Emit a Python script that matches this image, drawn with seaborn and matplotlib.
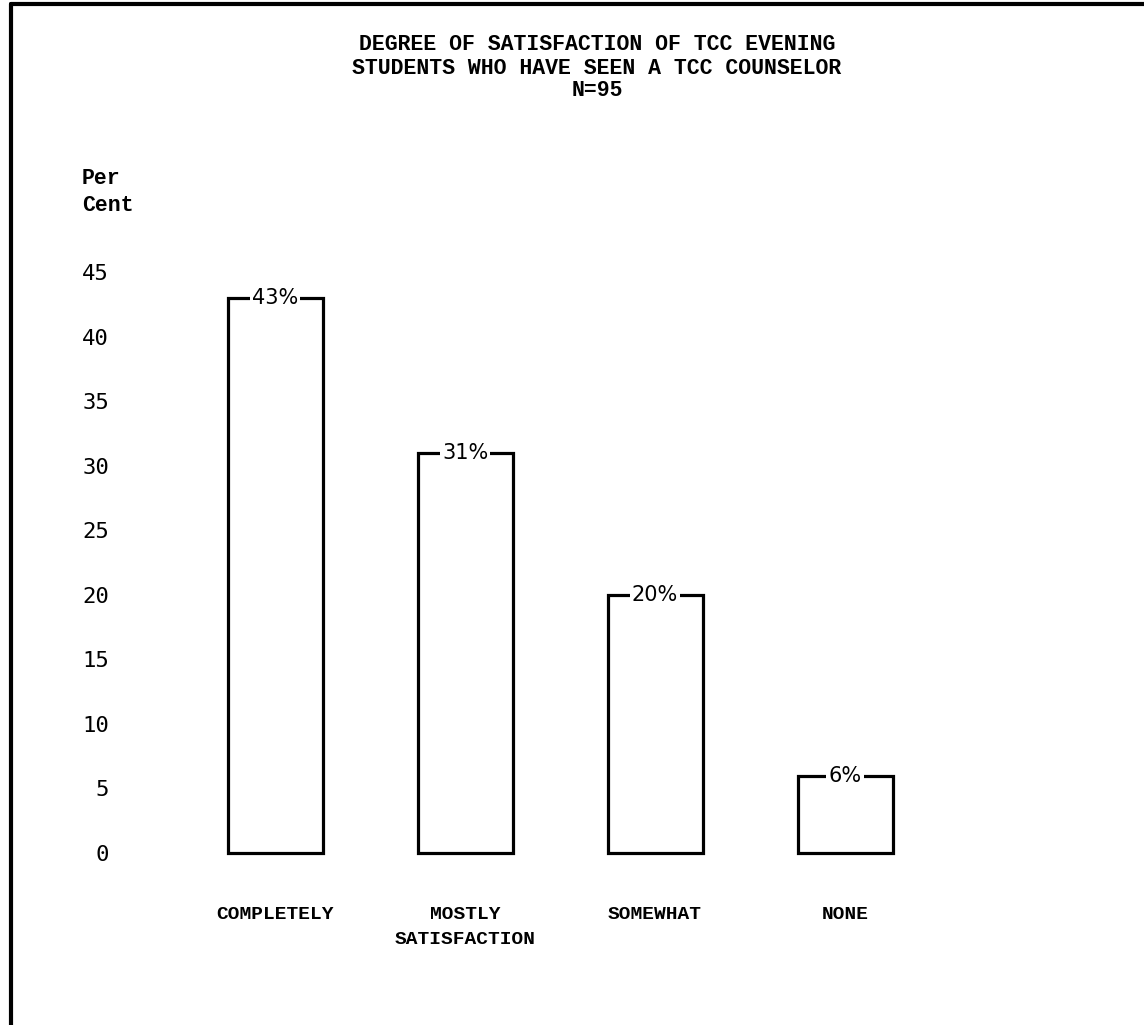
import pandas as pd
import seaborn as sns
from matplotlib import pyplot as plt
from matplotlib.lines import Line2D

px = 1/100

# data
categories = ['COMPLETELY', 'MOSTLY\nSATISFACTION', 'SOMEWHAT', 'NONE']
percent = [43, 31, 20, 6]
bar_labels = ['43%', '31%', '20%', '6%']
y_ticks = [0, 5, 10, 15, 20, 25, 30, 35, 40, 45]
title_lines = ['DEGREE OF SATISFACTION OF TCC EVENING',
               'STUDENTS WHO HAVE SEEN A TCC COUNSELOR',
               'N=95']
y_label = 'Per\nCent'

sns.set_style('white')
plt.rcParams['font.family'] = ['Liberation Mono', 'DejaVu Sans Mono']
plt.rcParams['text.color'] = 'black'
plt.rcParams['xtick.color'] = 'black'
plt.rcParams['ytick.color'] = 'black'

W, H = 1144, 1025
fig = plt.figure(figsize=(W*px, H*px), dpi=100)

# axes box in pixels: left 120, right 1100, bottom 853, top 272
ax = fig.add_axes([120/W, 1 - 853/H, (1100 - 120)/W, (853 - 272)/H])

df = pd.DataFrame({'category': categories, 'percent': percent})
sns.barplot(data=df, x='category', y='percent', color='white', saturation=1,
            edgecolor='black', linewidth=2.3, width=0.5, ax=ax)

for p in ax.patches:
    p.set_clip_on(False)

# value labels sit on the top edge, breaking it
for i, (v, lab) in enumerate(zip(percent, bar_labels)):
    ax.text(i, v, lab, ha='center', va='center', fontsize=15,
            family=['DejaVu Sans'], color='black',
            bbox=dict(facecolor='white', edgecolor='none', pad=1.5))

ax.set_ylim(0, 45)
ax.set_xlim((120 - 275)/190, (1100 - 275)/190)
ax.set_yticks(y_ticks)
ax.set_yticklabels([str(t) for t in y_ticks], fontsize=16,
                   family=['DejaVu Sans Mono'])
ax.tick_params(axis='y', length=0, pad=8, labelcolor='black')
ax.tick_params(axis='x', length=0, pad=38, labelcolor='black')
for t in ax.get_xticklabels():
    t.set_fontsize(14)
    t.set_fontweight('bold')
    t.set_linespacing(1.6)
    t.set_va('top')
ax.set_xlabel('')
ax.set_ylabel('')
sns.despine(ax=ax, left=True, bottom=True)

# title block
for k, line in enumerate(title_lines):
    fig.text(597/W, 1 - (45 + 23*k)/H, line, ha='center', va='center',
             fontsize=15.5, fontweight='bold', color='black')

fig.text(82/W, 1 - 192/H, y_label, ha='left', va='center', fontsize=15.5,
         fontweight='bold', linespacing=1.4, color='black')

# page frame: top and left rules
fig.add_artist(Line2D([11/W, 1], [1 - 4/H, 1 - 4/H], color='black', lw=3,
                      transform=fig.transFigure))
fig.add_artist(Line2D([11/W, 11/W], [0, 1 - 4/H], color='black', lw=3,
                      transform=fig.transFigure))

plt.savefig('out.png', dpi=100)
